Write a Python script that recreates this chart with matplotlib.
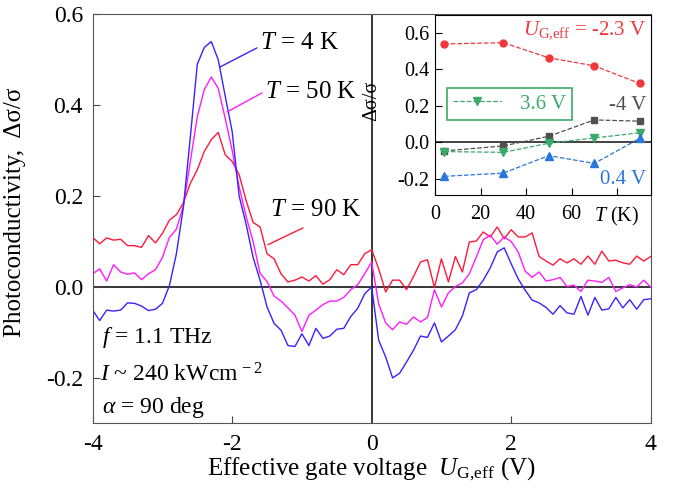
import numpy as np
import matplotlib
matplotlib.use("Agg")
import matplotlib.pyplot as plt

plt.rcParams["font.family"] = ["Liberation Serif", "DejaVu Serif"]
plt.rcParams["mathtext.fontset"] = "custom"
plt.rcParams["mathtext.rm"] = "Liberation Serif"
plt.rcParams["mathtext.it"] = "Liberation Serif:italic"
plt.rcParams["axes.unicode_minus"] = False

# gate voltage grid (V), 0.1 V steps
u_gate = np.round(np.arange(-4.0, 4.001, 0.1), 1)

sig_4K = [
    -0.051, -0.074, -0.051, -0.053, -0.051, -0.035, -0.036, -0.042, -0.052, -0.049,
    -0.036, 0.003, 0.073, 0.175, 0.33, 0.49, 0.527, 0.54, 0.50, 0.42,
    0.342, 0.20, 0.138, 0.065, 0.015, -0.044, -0.08, -0.095, -0.129, -0.131,
    -0.103, -0.129, -0.091, -0.113, -0.108, -0.093, -0.091, -0.065, -0.047, -0.015,
    0.0, -0.117, -0.154, -0.2, -0.19, -0.165, -0.139, -0.108, -0.111, -0.079,
    -0.121, -0.108, -0.094, -0.064, -0.013, -0.006, 0.015, 0.042, 0.077, 0.086,
    0.051, 0.018, -0.007, -0.029, -0.035, -0.045, -0.06, -0.041, -0.057, -0.06,
    -0.021, -0.062, -0.023, -0.051, -0.048, -0.023, -0.046, -0.028, -0.049, -0.028,
    -0.026,
]
sig_50K = [
    0.029, 0.04, 0.013, 0.049, 0.033, 0.028, 0.031, 0.016, 0.029, 0.038,
    0.065, 0.109, 0.127, 0.178, 0.276, 0.375, 0.434, 0.462, 0.437, 0.371,
    0.30, 0.22, 0.155, 0.10, 0.03, 0.012, -0.02, -0.031, -0.046, -0.062,
    -0.098, -0.062, -0.051, -0.039, -0.031, -0.031, -0.023, -0.006, 0.005, 0.029,
    0.055, -0.037, -0.079, -0.094, -0.077, -0.082, -0.066, -0.077, -0.067, -0.006,
    -0.044, -0.013, 0.001, 0.009, 0.029, 0.066, 0.104, 0.114, 0.094, 0.110,
    0.10, 0.077, 0.035, 0.021, 0.033, 0.013, 0.016, 0.021, 0.001, 0.004,
    -0.01, 0.015, 0.013, 0.01, 0.021, -0.01, -0.002, 0.005, 0.0, 0.015,
    0.0,
]
sig_90K = [
    0.109, 0.095, 0.108, 0.103, 0.105, 0.091, 0.091, 0.087, 0.113, 0.097,
    0.118, 0.147, 0.159, 0.185, 0.228, 0.258, 0.298, 0.324, 0.34, 0.291,
    0.276, 0.247, 0.19, 0.142, 0.132, 0.073, 0.062, 0.029, 0.011, 0.015,
    0.022, 0.013, 0.025, 0.006, 0.016, 0.038, 0.027, 0.049, 0.049, 0.073,
    0.082, 0.04, -0.011, 0.015, 0.015, -0.006, 0.023, 0.055, 0.06, -0.001,
    0.062, 0.011, 0.067, 0.033, 0.099, 0.101, 0.121, 0.11, 0.132, 0.106,
    0.126, 0.11, 0.11, 0.119, 0.067, 0.057, 0.048, 0.062, 0.053, 0.062,
    0.05, 0.068, 0.05, 0.079, 0.057, 0.059, 0.053, 0.05, 0.068, 0.057,
    0.067,
]

# inset: temperature dependence at fixed gate voltages
temps = [4, 30, 50, 70, 90]
ins_m23 = [0.54, 0.547, 0.464, 0.42, 0.323]
ins_m4 = [-0.047, -0.02, 0.033, 0.123, 0.116]
ins_36 = [-0.051, -0.055, -0.005, 0.024, 0.052]
ins_04 = [-0.187, -0.169, -0.073, -0.116, 0.022]

c_blue, c_mag, c_red = "#3a22ff", "#ff1cff", "#ff1a3c"

fig = plt.figure(figsize=(6.84, 4.94), dpi=100)
ax = fig.add_axes([0.1355, 0.1431, 0.8158, 0.828])

ax.axhline(0, color="black", lw=1.1, zorder=1)
ax.axvline(0, color="black", lw=1.1, zorder=1)
ax.plot(u_gate, sig_90K, color=c_red, lw=1.0)
ax.plot(u_gate, sig_50K, color=c_mag, lw=1.0)
ax.plot(u_gate, sig_4K, color=c_blue, lw=1.0)

ax.set_xlim(-4, 4)
ax.set_ylim(-0.3, 0.6)
ax.set_xticks([-4, -2, 0, 2, 4])
ax.set_xticklabels(["-4", "-2", "0", "2", "4"])
ax.set_yticks([-0.2, 0.0, 0.2, 0.4, 0.6])
ax.set_yticklabels(["-0.2", "0.0", "0.2", "0.4", "0.6"])
ax.tick_params(direction="in", length=5, labelsize=17, color="#444444")
ax.tick_params(axis="x", pad=8)
ax.tick_params(axis="y", pad=7)
for s in ax.spines.values():
    s.set_color("#555555")

ax.set_ylabel("Photoconductivity,  Δσ/σ", fontsize=18)
ax.yaxis.set_label_coords(-0.12, 0.515)
ax.set_xlabel(r"Effective gate voltage  $U_{\rm G{,}eff}$ (V)", fontsize=18)
ax.xaxis.set_label_coords(0.5, -0.078)

# temperature labels with leader lines
for xy, xyt, c in [
    ((-2.175, 0.484), (-1.645, 0.526), c_blue),
    ((-2.075, 0.385), (-1.573, 0.427), c_mag),
    ((-1.487, 0.093), (-0.985, 0.130), c_red),
]:
    ax.annotate("", xy=xy, xytext=xyt,
                arrowprops=dict(arrowstyle="-", color=c, lw=1.0,
                                shrinkA=0, shrinkB=0))
ax.text(-1.60, 0.537, r"$T$ = 4 K", fontsize=18, va="center")
ax.text(-1.53, 0.429, r"$T$ = 50 K", fontsize=18, va="center")
ax.text(-1.46, 0.170, r"$T$ = 90 K", fontsize=18, va="center")

ax.text(-3.87, -0.111, r"$f$ = 1.1 THz", fontsize=17, va="center")
ax.text(-3.89, -0.193, r"$I$ ~ 240 kWcm$^{\,\rm -2}$", fontsize=17, va="center")
ax.text(-3.86, -0.265, r"$\alpha$ = 90 deg", fontsize=17, va="center")

# inset
ai = fig.add_axes([0.636, 0.605, 0.316, 0.365])
ai.axhline(0, color="#222222", lw=1.2, zorder=1)
ai.plot(temps, ins_m23, "--o", color="#f0383c", lw=0.9, ms=5)
ai.plot(temps, ins_m4, "--s", color="#505050", lw=0.9, ms=5)
ai.plot(temps, ins_36, "--v", color="#3aaa6a", lw=0.9, ms=5.5, label="3.6 V")
ai.plot(temps, ins_04, "--^", color="#2a76dc", lw=0.9, ms=5.5)
ai.set_xlim(0, 95)
ai.set_ylim(-0.29, 0.7)
ai.set_xticks([0, 20, 40, 60, 80])
ai.set_xticklabels(["0", "20", "40", "60", r"$T$ (K)"])
ai.set_yticks([-0.2, 0.0, 0.2, 0.4, 0.6])
ai.set_yticklabels(["-0.2", "0.0", "0.2", "0.4", "0.6"])
ai.tick_params(direction="in", length=5, labelsize=14.5)
ai.tick_params(axis="x", pad=7)
ai.tick_params(axis="y", pad=4)
ai.set_ylabel("Δσ/σ", fontsize=14.5)
ai.yaxis.set_label_coords(-0.25, 0.52)

ai.text(93, 0.615, r"$U_{\rm G{,}eff}$ = -2.3 V", color="#f0383c", fontsize=15,
        ha="right", va="center")
ai.text(93, 0.20, "-4 V", color="#505050", fontsize=15, ha="right", va="center")
ai.text(93, -0.205, "0.4 V", color="#2a76dc", fontsize=15, ha="right", va="center")

leg = ai.legend(loc="lower left", bbox_to_anchor=(0.056, 0.417), borderaxespad=0,
                fontsize=15, fancybox=False, handlelength=2.3, handletextpad=0.9,
                borderpad=0.3, labelcolor="#3aaa6a")
leg.get_frame().set_edgecolor("#3aaa6a")
leg.get_frame().set_linewidth(1.2)
leg.get_frame().set_alpha(1)

fig.savefig("out.png", dpi=100)
